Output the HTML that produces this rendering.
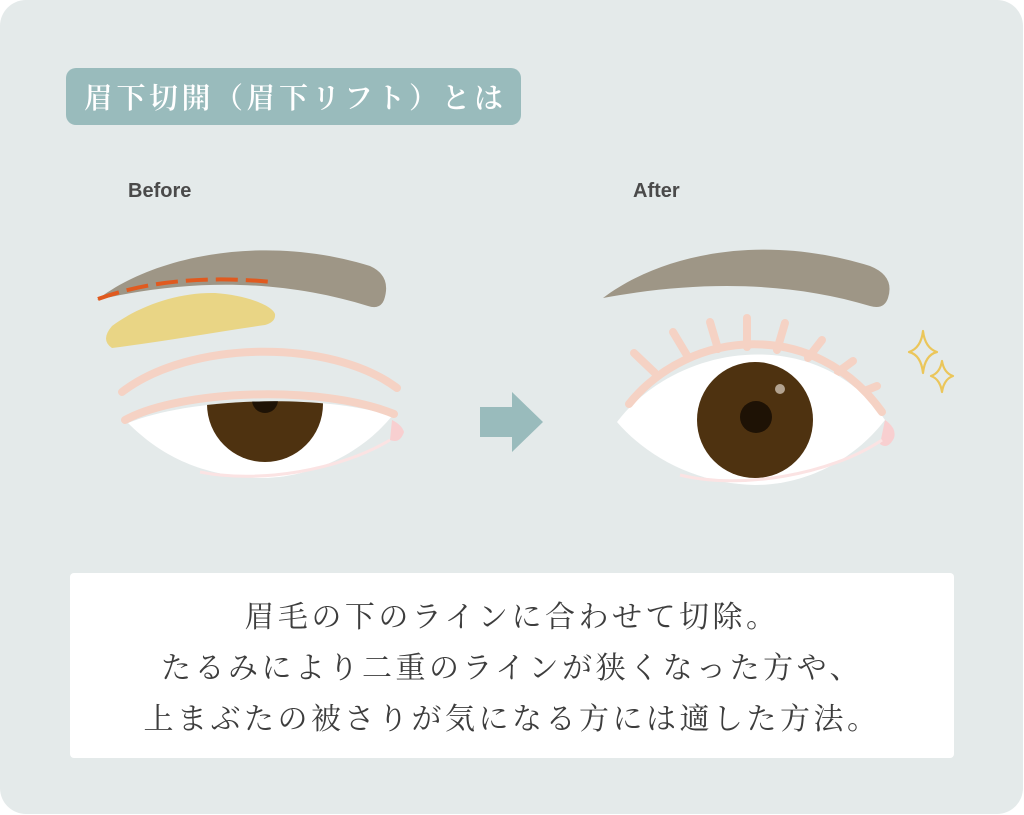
<!DOCTYPE html>
<html><head><meta charset="utf-8"><style>
html,body{margin:0;padding:0;background:#fff;}
body{width:1024px;height:815px;overflow:hidden;position:relative;font-family:"Liberation Serif","Noto Serif CJK SC",serif;}
.panel{position:absolute;left:0;top:0;width:1023px;height:814px;background:#e4eaea;border-radius:26px;}
.title{position:absolute;left:66px;top:68px;width:455px;height:57px;background:#99bbbc;border-radius:10px;color:#fff;font-size:29px;line-height:57px;padding-left:18px;box-sizing:border-box;letter-spacing:3.5px;font-family:"Noto Serif CJK SC",serif;font-weight:600;}
.lbl{position:absolute;font-family:"Liberation Sans",sans-serif;font-weight:bold;font-size:20px;color:#4a4a4a;}
.box{position:absolute;left:70px;top:573px;width:884px;height:185px;background:#fff;border-radius:4px;text-align:center;color:#3d3d3d;font-size:30px;line-height:51px;padding-top:16px;box-sizing:border-box;letter-spacing:3.5px;font-family:"Noto Serif CJK SC",serif;}
svg{position:absolute;left:0;top:0;}
</style></head><body>
<div class="panel"></div>
<div class="title">眉下切開（眉下リフト）とは</div>
<div class="lbl" style="left:128px;top:180px;">Before</div>
<div class="lbl" style="left:633px;top:180px;">After</div>
<svg width="1024" height="815" viewBox="0 0 1024 815">
<defs>
<clipPath id="e1"><path d="M128,423 C190,398 320,393 392,416 C360,455 310,478 260,478 C200,476 160,455 128,423Z"/></clipPath>
<clipPath id="e2"><path d="M617,422 C680,340 820,325 885,420 C850,465 800,485 755,485 C700,484 650,460 617,422Z"/></clipPath>
</defs>
<!-- before brow -->
<path d="M97,300 C150,258 260,232 370,266 Q392,276 384,300 Q380,310 368,306 C290,282 200,276 97,300Z" fill="#9e9686"/>
<path d="M98,299 C150,280 210,276 272,282" stroke="#e05a1f" stroke-width="4" fill="none" stroke-dasharray="22,8"/>
<path d="M112,348 Q100,340 112,326 C140,305 180,292 215,293 C245,295 272,305 275,314 Q276,322 265,325 C210,333 160,342 112,348Z" fill="#e9d585"/>
<path d="M122,392 C190,340 330,338 397,388" stroke="#f5d2c4" stroke-width="8" fill="none" stroke-linecap="round"/>
<path d="M392,420 Q402,425 404,432 Q400,444 390,440Z" fill="#f8cfd0"/>
<path d="M128,423 C190,398 320,393 392,416 C360,455 310,478 260,478 C200,476 160,455 128,423Z" fill="#fff"/>
<g clip-path="url(#e1)"><circle cx="265" cy="404" r="58" fill="#4e3210"/><circle cx="265" cy="400" r="13" fill="#1e1205"/></g>
<path d="M200,472 C260,484 340,470 390,440" stroke="#fbe3e3" stroke-width="3" fill="none"/>
<path d="M125,420 C180,390 320,384 394,414" stroke="#f5d2c4" stroke-width="8" fill="none" stroke-linecap="round"/>
<!-- arrow -->
<path d="M480,407 H512 V392 L543,422 L512,452 V437 H480Z" fill="#99bbbc"/>
<!-- after brow -->
<path d="M603,298 C660,255 760,232 870,266 Q895,276 888,298 Q884,310 870,306 C790,282 700,280 603,298Z" fill="#9e9686"/>
<!-- lashes -->
<g stroke="#f5d2c4" stroke-width="8" stroke-linecap="round">
<line x1="655" y1="373" x2="634" y2="353"/>
<line x1="688" y1="357" x2="673" y2="332"/>
<line x1="718" y1="349" x2="710" y2="322"/>
<line x1="747" y1="347" x2="747" y2="318"/>
<line x1="777" y1="350" x2="785" y2="323"/>
<line x1="808" y1="358" x2="822" y2="340"/>
<line x1="838" y1="372" x2="853" y2="361"/>
<line x1="862" y1="392" x2="877" y2="386"/>
</g>
<path d="M885,420 Q897,428 894,438 Q888,450 880,444Z" fill="#f8cfd0"/>
<path d="M617,422 C680,340 820,325 885,420 C850,465 800,485 755,485 C700,484 650,460 617,422Z" fill="#fff"/>
<g clip-path="url(#e2)"><circle cx="755" cy="420" r="58" fill="#4e3210"/><circle cx="756" cy="417" r="16" fill="#1e1205"/><circle cx="780" cy="389" r="5" fill="#b3a390"/></g>
<path d="M680,475 C740,490 830,475 882,440" stroke="#fbe3e3" stroke-width="3" fill="none"/>
<path d="M629,404 C690,328 815,318 882,412" stroke="#f5d2c4" stroke-width="8" fill="none" stroke-linecap="round"/>
<!-- sparkles -->
<g fill="none" stroke="#ebc65a" stroke-width="2.2" stroke-linejoin="round">
<path d="M923,331 Q925,348 937,352 Q925,355 923,373 Q921,355 909,352 Q921,348 923,331Z"/>
<path d="M942,361 Q944,373 953,376 Q944,379 942,392 Q940,379 931,376 Q940,373 942,361Z"/>
</g>
</svg>
<div class="box">眉毛の下のラインに合わせて切除。<br>たるみにより二重のラインが狭くなった方や、<br>上まぶたの被さりが気になる方には適した方法。</div>
</body></html>
